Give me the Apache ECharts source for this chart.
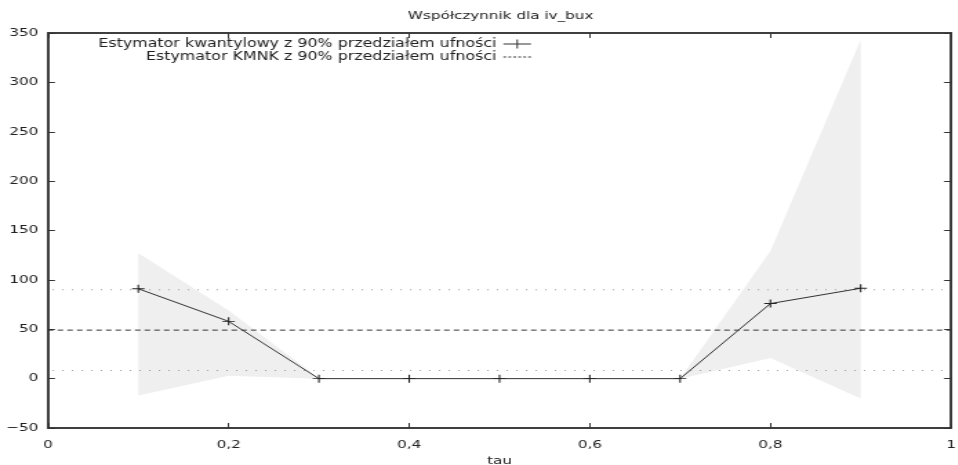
<!DOCTYPE html>
<html>
<head>
<meta charset="utf-8">
<script src="https://cdn.jsdelivr.net/npm/echarts@6/dist/echarts.min.js"></script>
<style>
  html, body { margin: 0; padding: 0; background: #fff; overflow: hidden; }
  #chart { height: 465px; transform-origin: 0 0; }
</style>
</head>
<body>
<div id="chart"></div>
<script>
// quantile levels and estimates of the iv_bux coefficient
const tau = [0.1, 0.2, 0.3, 0.4, 0.5, 0.6, 0.7, 0.8, 0.9];
const quantCoef = [91, 58, 0, 0, 0, 0, 0, 76, 91.5];
const bandUpper = [127, 69, 0.5, 0, 0, 0, 0, 129, 343];
const bandLower = [-17, 3, 0, 0, 0, 0, 0, 21, -20];
// OLS estimate with its 90% interval
const olsCoef = 49.1;
const olsLower = 8.2;
const olsUpper = 90;
const yTicks = [-50, 0, 50, 100, 150, 200, 250, 300, 350];
const xTicks = [0, 0.2, 0.4, 0.6, 0.8, 1];
const xTickLabels = ['0', '0,2', '0,4', '0,6', '0,8', '1'];

const SX = 1.38;               // horizontal stretch of the whole figure
const W = 958 / SX;
const el = document.getElementById('chart');
el.style.width = W + 'px';
el.style.transform = 'scaleX(' + SX + ')';

const FONT = 'DejaVu Sans';
const INK = '#222';
const AX = '#333';

const chart = echarts.init(el, null, { renderer: 'canvas', width: W, height: 465 });

const nameQ = 'Estymator kwantylowy z 90% przedziałem ufności';
const nameO = 'Estymator KMNK z 90% przedziałem ufności';
const crossPath = 'path://M0,5H10M5,0V10';
// legend samples: solid line with a cross, and a short dashed line
const iconQ = 'path://M0,4h20v1h-20zM9.5,0h1v9h-1z';
const iconO = 'path://M0,4h2v1h-2zM3.6,4h2v1h-2zM7.2,4h2v1h-2zM10.8,4h2v1h-2zM14.4,4h2v1h-2zM18,4h2v1h-2z';

const xMin = xTicks[0], xMax = xTicks[xTicks.length - 1];
const yMin = yTicks[0], yMax = yTicks[yTicks.length - 1];

const gridLeft = 48 / SX;
const gridRight = W - 951 / SX;

const axisLineStyle = w => ({ show: true, onZero: false, lineStyle: { color: AX, width: w, opacity: 1 } });
const tickStyle = () => ({ show: true, inside: true, length: 5, lineStyle: { color: AX, width: 1 } });

const legendCommon = {
  right: W - 531 / SX,
  align: 'right',
  itemWidth: 20, itemHeight: 9, itemGap: 4,
  padding: 0,
  itemStyle: { borderWidth: 0 },
  textStyle: { fontFamily: FONT, fontSize: 11.5, color: INK }
};

chart.setOption({
  animation: false,
  backgroundColor: '#fff',
  title: {
    text: 'Współczynnik dla iv_bux',
    left: 499 / SX - 71,
    top: 6,
    textStyle: { fontFamily: FONT, fontSize: 11, fontWeight: 'normal', color: INK }
  },
  legend: [
    Object.assign({ data: [{ name: nameQ, icon: iconQ }], top: 38 }, legendCommon),
    Object.assign({ data: [{ name: nameO, icon: iconO }], top: 51 }, legendCommon)
  ],
  grid: {
    show: true, borderColor: AX, borderWidth: 1.5, backgroundColor: 'rgba(0,0,0,0)',
    left: gridLeft, right: gridRight, top: 33, bottom: 37,
    containLabel: false, outerBoundsMode: 'none'
  },
  xAxis: [
    {
      type: 'value', min: xMin, max: xMax, interval: 0.2, position: 'bottom',
      name: 'tau', nameLocation: 'middle', nameGap: 26,
      nameTextStyle: { fontFamily: FONT, fontSize: 11, color: INK },
      axisLine: axisLineStyle(1.5),
      axisTick: tickStyle(),
      axisLabel: {
        margin: 12, fontFamily: FONT, fontSize: 11, color: INK,
        formatter: v => {
          const i = xTicks.findIndex(t => Math.abs(t - v) < 1e-9);
          return i >= 0 ? xTickLabels[i] : String(v).replace('.', ',');
        }
      },
      splitLine: { show: false }
    },
    {
      type: 'value', min: xMin, max: xMax, interval: 0.2, position: 'top',
      axisLine: axisLineStyle(1.5),
      axisTick: tickStyle(),
      axisLabel: { show: false },
      splitLine: { show: false }
    }
  ],
  yAxis: [
    {
      type: 'value', min: yMin, max: yMax, interval: 50, position: 'left',
      axisLine: axisLineStyle(1.5),
      axisTick: tickStyle(),
      axisLabel: {
        margin: 7, fontFamily: FONT, fontSize: 11, color: INK,
        formatter: v => String(v).replace('-', '\u2212')
      },
      splitLine: { show: false }
    },
    {
      type: 'value', min: yMin, max: yMax, interval: 50, position: 'right',
      axisLine: axisLineStyle(1.5),
      axisTick: tickStyle(),
      axisLabel: { show: false },
      splitLine: { show: false }
    }
  ],
  series: [
    {
      // shaded confidence band of the quantile estimator
      type: 'custom',
      silent: true,
      z: 1,
      data: tau.map((t, i) => [t, bandLower[i], bandUpper[i]]),
      renderItem: (params, api) => {
        if (params.dataIndex !== 0) return null;
        const pts = [];
        for (let i = 0; i < tau.length; i++) pts.push(api.coord([tau[i], bandUpper[i]]));
        for (let i = tau.length - 1; i >= 0; i--) pts.push(api.coord([tau[i], bandLower[i]]));
        return { type: 'polygon', shape: { points: pts }, style: { fill: '#efefef' } };
      }
    },
    {
      name: nameO,
      type: 'line',
      z: 3,
      data: [[xMin, olsCoef], [xMax, olsCoef]],
      symbol: 'none',
      lineStyle: { color: '#333', width: 1, type: [4, 3] },
      itemStyle: { color: '#333' }
    },
    {
      type: 'line',
      z: 2,
      data: [[0.005, olsLower], [xMax, olsLower]],
      symbol: 'none',
      silent: true,
      lineStyle: { color: '#9a9a9a', width: 1, type: [1, 6] }
    },
    {
      type: 'line',
      z: 2,
      data: [[0.005, olsUpper], [xMax, olsUpper]],
      symbol: 'none',
      silent: true,
      lineStyle: { color: '#9a9a9a', width: 1, type: [1, 6] }
    },
    {
      name: nameQ,
      type: 'line',
      z: 4,
      data: tau.map((t, i) => [t, quantCoef[i]]),
      symbol: crossPath,
      symbolSize: [9, 8],
      showAllSymbol: true,
      lineStyle: { color: '#333', width: 1 },
      itemStyle: { color: '#333', borderColor: '#222', borderWidth: 1 }
    }
  ]
});
</script>
</body>
</html>
